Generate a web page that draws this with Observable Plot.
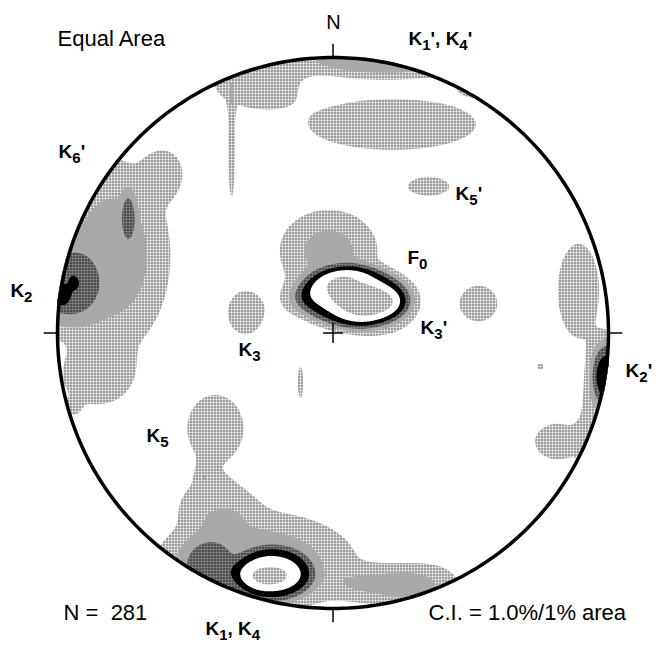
<!DOCTYPE html>
<html>
<head>
<meta charset="utf-8">
<script src="https://cdn.jsdelivr.net/npm/d3@7"></script>
<script src="https://cdn.jsdelivr.net/npm/@observablehq/plot@0.6"></script>
<style>
  body { margin: 0; background: #fff; }
  #chart { width: 656px; height: 646px; }
</style>
</head>
<body>
<div id="chart"></div>
<script>
// Pole concentrations on the equal-area net (lower hemisphere).
// Centres in percent of the net radius (east, north), peak in % per 1% area,
// spread (east, north) in percent of the net radius, shape = kernel flatness.
const clusterEast    = [  7.8, 11.4, -1.6, -15.4, 17.0, -31.8, -21.6, -22.7, -46.3, -28.1, 19.1, -42.7, -47.0, -42.7, 35.4, 19.1, -28.1, 57.2, -36.8, 21.6, 34.7, -80.0, -74.2, -100.7, -98.9, -86.2, -60.8, 89.1, 94.9, 100.0, 81.5, 52.8, -11.8, 75.3, -94.6];
const clusterNorth   = [ 12.9, 12.5, 29.9,  11.8,  5.5,   7.4, -87.7, -88.4, -84.8, -83.3, -91.7, -60.8, -51.4, -34.7, -91.7, 99.6, 91.0, 90.9, 67.0, 75.7, 53.2, 28.1, 42.7, 16.2, 12.9, -16.5, 58.3, 15.4, -33.6, -14.3, -39.4, 10.7, -18.0, -12.2, -27.4];
const clusterPeak    = [  4.6,  1.8,  2.2,   1.0,  1.2,   1.6,   2.6,   1.6,   1.5,   2.5,  1.6,   1.3,   1.0,   1.5,  1.4,  2.8,  1.6,  1.4,  1.5,  1.6,  1.5,  2.4,  1.5,   2.6,   0.9,  1.35,  1.3,  1.5,  1.5,   4.2,  1.5,  1.5,  1.4,  1.2,  1.2];
const clusterSpreadE = [ 19.2,  8.7, 15.2,   5.1, 12.5,   6.5,  13.4,   6.5,   8.0,  29.8, 14.5,  12.7,   2.2,  10.9, 10.9, 27.2, 15.2, 12.7,  1.3, 30.9,  8.0, 17.4,  2.2,  11.6,   2.5,  12.7,   6.5,  8.0,  5.1,   5.1,  8.7,  7.3,  1.1,  1.8,  2.2];
const clusterSpreadN = [ 10.5,  3.6, 12.7,   5.1,  7.5,   8.0,   9.2,   3.3,   9.1,  15.2,  5.8,   8.0,   3.6,  13.1,  8.0,  5.8,  9.0,  5.1, 18.9,  9.4,  3.6, 29.0,  7.3,  12.7,   3.3,  10.2,   8.0, 18.2, 18.2,  10.2,  6.9,  6.9,  6.5,  1.8,  2.2];
const clusterShape   = [  3.0,  1.0,  1.5,   1.0,  1.5,   1.5,   3.0,   1.0,   1.5,   1.5,  1.5,   1.5,   1.0,   1.5,  1.0,  1.5,  1.5,  1.5,  1.5,  1.5,  1.5,  1.5,  1.5,   1.5,   1.5,   1.5,   1.5,  1.5,  1.5,   1.5,  1.5,  1.5,  1.5,  1.0,  1.0];

// Contour interval: 1.0% per 1% area
const contourLevels = [1, 2, 3, 4, 5, 6];
const poleCount = 281;

// Compass directions (azimuth, degrees) marked on the primitive circle
const compassAzimuths = [0, 90, 180, 270];

// Annotations: text and placement on the net (percent of radius)
const labelText  = ["K1', K4'", "K6'", "K5'", "F0", "K2", "K3'", "K3", "K2'", "K5", "K1, K4"];
const labelEast  = [27.4, -99.6, 44.5, 27.0, -117.1, 31.8, -34.3, 106.2, -67.7, -46.3];
const labelNorth = [104.4, 63.7, 48.1, 25.2, 13.2, -0.5, -8.2, -15.8, -39.7, -109.8];

const clusters = clusterEast.map((e, i) => ({
  e, n: clusterNorth[i], peak: clusterPeak[i],
  se: clusterSpreadE[i], sn: clusterSpreadN[i], p: clusterShape[i]
}));

// Density of poles (% per 1% area) at a point of the net
function poleDensity(x, y) {
  if (x * x + y * y > 100.6 * 100.6) return 0;
  let s = 0;
  for (const c of clusters) {
    const dx = (x - c.e) / c.se, dy = (y - c.n) / c.sn;
    const q = dx * dx + dy * dy;
    if (q > 60) continue;
    s += c.peak * Math.exp(-0.5 * Math.pow(q, c.p));
  }
  return s;
}

const levelFills = [
  "url(#stipple-light)", "#a9a9a9", "url(#stipple-dark)", "#000", "#fff", "url(#stipple-light)"
];

const rim = d3.range(0, 361, 1).map(a => ({
  x: 100 * Math.sin(a * Math.PI / 180),
  y: 100 * Math.cos(a * Math.PI / 180)
}));
const ticks = compassAzimuths.map(a => {
  const s = Math.sin(a * Math.PI / 180), c = Math.cos(a * Math.PI / 180);
  return {x1: 100 * s, y1: 100 * c, x2: 105 * s, y2: 105 * c};
});
const centreCross = compassAzimuths.slice(0, 2).map(a => {
  const s = Math.sin(a * Math.PI / 180), c = Math.cos(a * Math.PI / 180);
  return {x1: -3.6 * s, y1: -3.6 * c, x2: 3.6 * s, y2: 3.6 * c};
});
const labels = labelText.map((t, i) => ({t, x: labelEast[i], y: labelNorth[i]}));

const font = "'Liberation Sans', Arial, Helvetica, sans-serif";

const svg = Plot.plot({
  width: 656,
  height: 646,
  marginLeft: 57, marginRight: 48, marginTop: 57, marginBottom: 38,
  style: {fontFamily: font, background: "#fff"},
  x: {domain: [-100, 100], axis: null},
  y: {domain: [-100, 100], axis: null},
  color: {type: "ordinal", domain: contourLevels, range: levelFills},
  marks: [
    Plot.contour({
      x1: -100, y1: -100, x2: 100, y2: 100,
      fill: poleDensity,
      thresholds: contourLevels,
      pixelSize: 1,
      stroke: "none"
    }),
    Plot.line(rim, {x: "x", y: "y", stroke: "#000", strokeWidth: 3.5}),
    Plot.link(ticks, {x1: "x1", y1: "y1", x2: "x2", y2: "y2", stroke: "#000", strokeWidth: 1.5}),
    Plot.link(centreCross, {x1: "x1", y1: "y1", x2: "x2", y2: "y2", stroke: "#000", strokeWidth: 1.5}),
    Plot.text(["N"], {x: 0.2, y: 110.2, text: d => d, fontSize: 20, lineAnchor: "bottom", fill: "#000"}),
    Plot.text(["Equal Area"], {x: -100, y: 104, text: d => d, fontSize: 22, textAnchor: "start", lineAnchor: "bottom", fill: "#000"}),
    Plot.text([`N =  ${poleCount}`], {x: -97.8, y: -104, text: d => d, fontSize: 22, textAnchor: "start", lineAnchor: "bottom", fill: "#000"}),
    Plot.text([`C.I. = ${contourLevels[0].toFixed(1)}%/1% area`], {x: 34.7, y: -104, text: d => d, fontSize: 22, textAnchor: "start", lineAnchor: "bottom", fill: "#000"}),
    Plot.text(labels, {x: "x", y: "y", text: "t", fontSize: 19, fontWeight: "bold", textAnchor: "start", lineAnchor: "bottom", fill: "#000", className: "net-labels"})
  ]
});

// Stipple patterns for the contour fills
const defs = d3.select(svg).insert("defs", ":first-child");
const light = defs.append("pattern").attr("id", "stipple-light")
  .attr("width", 3).attr("height", 3).attr("patternUnits", "userSpaceOnUse");
light.append("rect").attr("width", 3).attr("height", 3).attr("fill", "#fff");
light.append("circle").attr("cx", 1.5).attr("cy", 1.5).attr("r", 1.0).attr("fill", "#333");
const dark = defs.append("pattern").attr("id", "stipple-dark")
  .attr("width", 3).attr("height", 3).attr("patternUnits", "userSpaceOnUse");
dark.append("rect").attr("width", 3).attr("height", 3).attr("fill", "#9a9a9a");
dark.append("circle").attr("cx", 1.5).attr("cy", 1.5).attr("r", 1.05).attr("fill", "#000");

// Subscript digits following K and F in the concentration labels
d3.select(svg).selectAll(".net-labels text").each(function () {
  const s = this.textContent;
  this.textContent = "";
  const parts = s.split(/(?<=[KF])(\d)/);
  let lowered = false;
  parts.forEach((p, i) => {
    if (!p) return;
    const ts = d3.select(this).append("tspan").text(p);
    if (i % 2 === 1) {
      ts.attr("font-size", 15).attr("dy", 5);
      lowered = true;
    } else if (lowered) {
      ts.attr("dy", -5);
      lowered = false;
    }
  });
});

document.getElementById("chart").append(svg);
</script>
</body>
</html>
